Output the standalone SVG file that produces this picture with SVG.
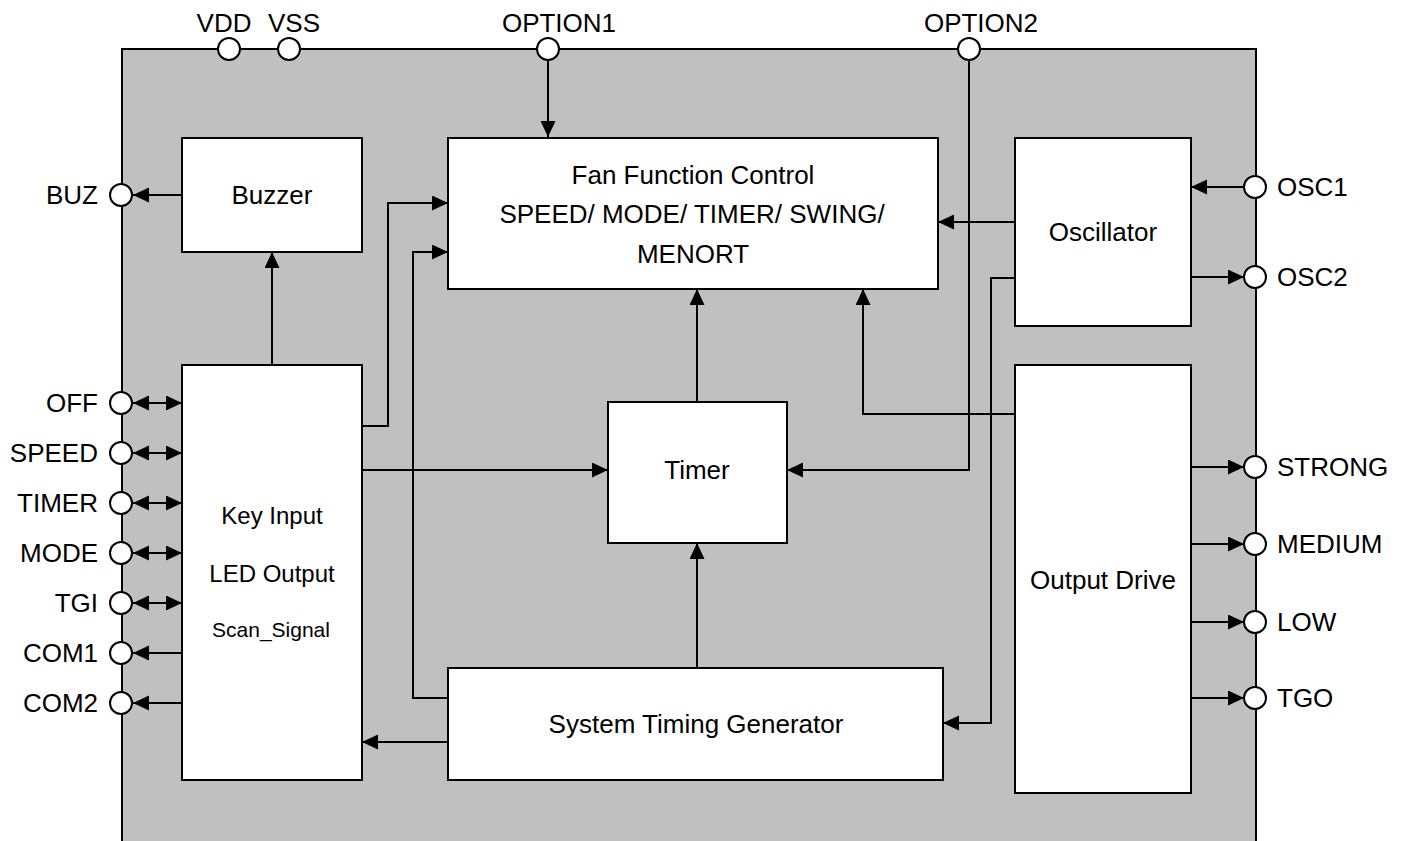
<svg xmlns="http://www.w3.org/2000/svg" width="1410" height="841" viewBox="0 0 1410 841">
<style>
.box{fill:#fff;stroke:#000;stroke-width:2}
.pin{fill:#fff;stroke:#000;stroke-width:2}
.ln{fill:none;stroke:#000;stroke-width:2}
.arr{marker-end:url(#ah)}
.dbl{marker-start:url(#ahs);marker-end:url(#ah)}
text{font-family:"Liberation Sans",Arial,sans-serif;fill:#000}
.lbl{font-size:26px}
.nt{font-size:26px;text-anchor:middle}
.l{text-anchor:end}
.c{text-anchor:middle}
</style>
<defs>
<marker id="ah" markerUnits="userSpaceOnUse" markerWidth="18" markerHeight="16" refX="16" refY="7.5" orient="auto"><path d="M0,0 L16,7.5 L0,15 Z" fill="#000"/></marker>
<marker id="ahs" markerUnits="userSpaceOnUse" markerWidth="18" markerHeight="16" refX="16" refY="7.5" orient="auto-start-reverse"><path d="M0,0 L16,7.5 L0,15 Z" fill="#000"/></marker>
</defs>
<rect x="122" y="49" width="1134" height="800" fill="#c0c0c0" stroke="#000" stroke-width="2"/>
<g id="connectors">
<path class="ln arr" d="M548,60 V137"/>
<path class="ln arr" d="M969,60 V470 H787"/>
<path class="ln arr" d="M1015,222 H938"/>
<path class="ln arr" d="M1015,278 H991 V723 H943"/>
<path class="ln arr" d="M1015,414 H863 V289"/>
<path class="ln arr" d="M697,402 V289"/>
<path class="ln arr" d="M697,668 V543"/>
<path class="ln arr" d="M362,426 H388 V203 H448"/>
<path class="ln arr" d="M448,698 H413 V252 H448"/>
<path class="ln arr" d="M362,470 H608"/>
<path class="ln arr" d="M448,742 H362"/>
<path class="ln arr" d="M272,365 V252"/>
<path class="ln arr" d="M182,195 H133"/>
<path class="ln dbl" d="M133,403 H182"/>
<path class="ln dbl" d="M133,453 H182"/>
<path class="ln dbl" d="M133,503 H182"/>
<path class="ln dbl" d="M133,553 H182"/>
<path class="ln dbl" d="M133,603 H182"/>
<path class="ln arr" d="M182,653 H133"/>
<path class="ln arr" d="M182,703 H133"/>
<path class="ln arr" d="M1244,187 H1191"/>
<path class="ln arr" d="M1191,277 H1244"/>
<path class="ln arr" d="M1191,467 H1244"/>
<path class="ln arr" d="M1191,544 H1244"/>
<path class="ln arr" d="M1191,622 H1244"/>
<path class="ln arr" d="M1191,698 H1244"/>
</g>
<g id="buzzer"><rect class="box" x="182" y="138" width="180" height="114"/><text class="nt" x="272" y="204">Buzzer</text></g>
<g id="fan"><rect class="box" x="448" y="138" width="490" height="151"/>
<text class="nt" x="693" y="184">Fan Function Control</text>
<text class="nt" x="692" y="223">SPEED/ MODE/ TIMER/ SWING/</text>
<text class="nt" x="693" y="263">MENORT</text></g>
<g id="oscillator"><rect class="box" x="1015" y="138" width="176" height="188"/><text class="nt" x="1103" y="241">Oscillator</text></g>
<g id="keyinput"><rect class="box" x="182" y="365" width="180" height="415"/>
<text class="c" x="272" y="524" style="font-size:24px">Key Input</text>
<text class="c" x="272" y="582" style="font-size:24px">LED Output</text>
<text class="c" x="271" y="637" style="font-size:21px">Scan_Signal</text></g>
<g id="timer"><rect class="box" x="608" y="402" width="179" height="141"/><text class="nt" x="697" y="479">Timer</text></g>
<g id="stg"><rect class="box" x="448" y="668" width="495" height="112"/><text class="nt" x="696" y="733">System Timing Generator</text></g>
<g id="outputdrive"><rect class="box" x="1015" y="365" width="176" height="428"/><text class="nt" x="1103" y="589">Output Drive</text></g>
<g id="pins">
<circle class="pin" cx="229" cy="49" r="11"/><text class="lbl c" x="224" y="32">VDD</text>
<circle class="pin" cx="289" cy="49" r="11"/><text class="lbl c" x="294" y="32">VSS</text>
<circle class="pin" cx="548" cy="49" r="11"/><text class="lbl c" x="559" y="32">OPTION1</text>
<circle class="pin" cx="969" cy="49" r="11"/><text class="lbl c" x="981" y="32">OPTION2</text>
<circle class="pin" cx="121" cy="195" r="11"/><text class="lbl l" x="98" y="204">BUZ</text>
<circle class="pin" cx="121" cy="403" r="11"/><text class="lbl l" x="98" y="412">OFF</text>
<circle class="pin" cx="121" cy="453" r="11"/><text class="lbl l" x="98" y="462">SPEED</text>
<circle class="pin" cx="121" cy="503" r="11"/><text class="lbl l" x="98" y="512">TIMER</text>
<circle class="pin" cx="121" cy="553" r="11"/><text class="lbl l" x="98" y="562">MODE</text>
<circle class="pin" cx="121" cy="603" r="11"/><text class="lbl l" x="98" y="612">TGI</text>
<circle class="pin" cx="121" cy="653" r="11"/><text class="lbl l" x="98" y="662">COM1</text>
<circle class="pin" cx="121" cy="703" r="11"/><text class="lbl l" x="98" y="712">COM2</text>
<circle class="pin" cx="1255" cy="187" r="11"/><text class="lbl" x="1277" y="196">OSC1</text>
<circle class="pin" cx="1255" cy="277" r="11"/><text class="lbl" x="1277" y="286">OSC2</text>
<circle class="pin" cx="1255" cy="467" r="11"/><text class="lbl" x="1277" y="476">STRONG</text>
<circle class="pin" cx="1255" cy="544" r="11"/><text class="lbl" x="1277" y="553">MEDIUM</text>
<circle class="pin" cx="1255" cy="622" r="11"/><text class="lbl" x="1277" y="631">LOW</text>
<circle class="pin" cx="1255" cy="698" r="11"/><text class="lbl" x="1277" y="707">TGO</text>
</g>
</svg>
